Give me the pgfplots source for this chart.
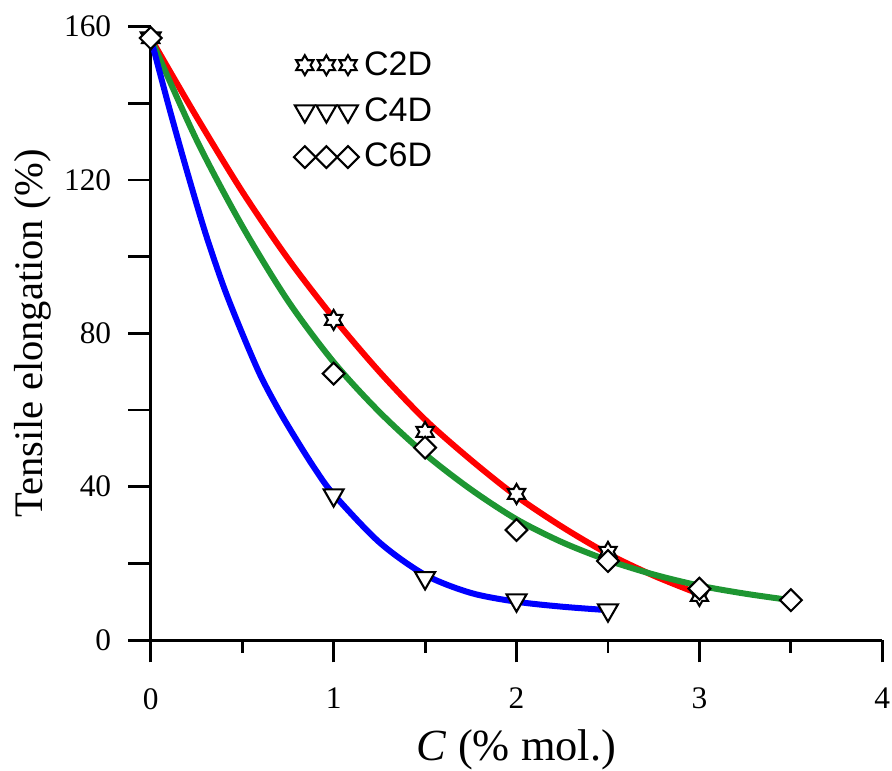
\documentclass[border=0pt]{standalone}
\usepackage{pgfplots}
\pgfplotsset{compat=1.18}
\usepackage{fontspec}
\setmainfont{Liberation Serif}
\newfontfamily\legfont{Liberation Sans}
\definecolor{cgreen}{RGB}{30,150,50}
\definecolor{cred}{RGB}{255,0,0}
\definecolor{cblue}{RGB}{0,0,255}

\pgfdeclareplotmark{hexstar}{%
  \pgfpathmoveto{\pgfpointpolar{90}{\pgfplotmarksize}}%
  \pgfpathlineto{\pgfpointpolar{120}{0.577\pgfplotmarksize}}%
  \pgfpathlineto{\pgfpointpolar{150}{\pgfplotmarksize}}%
  \pgfpathlineto{\pgfpointpolar{180}{0.577\pgfplotmarksize}}%
  \pgfpathlineto{\pgfpointpolar{210}{\pgfplotmarksize}}%
  \pgfpathlineto{\pgfpointpolar{240}{0.577\pgfplotmarksize}}%
  \pgfpathlineto{\pgfpointpolar{270}{\pgfplotmarksize}}%
  \pgfpathlineto{\pgfpointpolar{300}{0.577\pgfplotmarksize}}%
  \pgfpathlineto{\pgfpointpolar{330}{\pgfplotmarksize}}%
  \pgfpathlineto{\pgfpointpolar{0}{0.577\pgfplotmarksize}}%
  \pgfpathlineto{\pgfpointpolar{30}{\pgfplotmarksize}}%
  \pgfpathlineto{\pgfpointpolar{60}{0.577\pgfplotmarksize}}%
  \pgfpathclose
  \pgfusepathqfillstroke
}

\begin{document}
\begin{tikzpicture}
\begin{axis}[
  scale only axis,
  width=9.835cm, height=8.247cm,
  xmin=0, xmax=4, ymin=0, ymax=160,
  axis x line*=bottom, axis y line*=left,
  axis line style={line width=1.1pt, black},
  every tick/.style={black, line width=1.1pt},
  tick align=outside,
  major tick length=0.3cm, minor tick length=0.17cm,
  xtick={0,1,2,3,4}, minor xtick={0.5,1.5,2.5,3.5},
  ytick={0,40,80,120,160},
  extra y ticks={20,60,100,140}, extra y tick labels={,,,},
  /pgf/number format/assume math mode=true,
  ticklabel style={font=\fontsize{12}{14}\selectfont},
  yticklabel style={inner xsep=0pt, inner ysep=0.215cm, xshift=-0.225cm},
  xticklabel style={inner ysep=0pt, inner xsep=0.7pt},
  xticklabel shift=0.34cm,
  xlabel={\textit{C} (\% mol.)},
  ylabel={Tensile elongation (\%)},
  xlabel style={font=\fontsize{17}{20}\selectfont, at={(rel axis cs:0.5,-0.1795)}, anchor=center, inner sep=0pt},
  ylabel style={font=\fontsize{15.5}{18}\selectfont, at={(rel axis cs:-0.1615,0.5)}, anchor=center, inner sep=0pt, inner ysep=0.19cm},
  clip=false,
  legend style={draw=none, fill=none, at={(rel axis cs:0.195,0.969)}, anchor=north west,
    font=\legfont\fontsize{13}{15}\selectfont, row sep=3pt, inner sep=0pt},
  legend cell align=left,
  legend image code/.code={\draw[mark repeat=1] plot coordinates {(0cm,0cm) (0.29cm,0cm) (0.58cm,0cm)};},
]
% fitted curves
\addplot[cred, line width=2.3pt, smooth, no marks, forget plot] coordinates {
 (0,157) (0.25,136.5) (0.5,117) (0.75,99.5) (1.0,84) (1.25,70) (1.5,57.5) (1.75,47)
 (2.0,37.5) (2.25,29.5) (2.5,22.5) (2.75,16.8) (3.0,12)};
\addplot[cgreen, line width=2.3pt, smooth, no marks, forget plot] coordinates {
 (0,157) (0.25,130.5) (0.5,108) (0.75,88.5) (1.0,72.5) (1.25,59.5) (1.5,48.5) (1.75,39.3)
 (2.0,31.5) (2.25,25.5) (2.5,20.8) (2.75,17.1) (3.0,14.2) (3.25,12.1) (3.5,10.4)};
\addplot[cblue, line width=2.3pt, smooth, no marks, forget plot] coordinates {
 (0,157) (0.1,139) (0.2,122) (0.3,106) (0.4,92) (0.5,80) (0.6,69) (0.7,60) (0.8,52)
 (0.9,44.5) (1.0,38) (1.25,25.5) (1.5,17) (1.75,12.3) (2.0,10) (2.25,8.7) (2.5,7.8)};
% data points
\addplot[only marks, mark=hexstar, mark size=3.8pt, mark options={fill=white, draw=black, line width=0.8pt}] coordinates {
 (0,157) (1,83.5) (1.5,54.3) (2,38.1) (2.5,23) (3,11.5)};
\addlegendentry{C2D}
\addplot[only marks, mark=triangle*, mark size=4.4pt, mark options={fill=white, draw=black, line width=0.8pt, rotate=180}] coordinates {
 (0,157) (1,37.8) (1.5,16.2) (2,10.4) (2.5,7.8)};
\addlegendentry{C4D}
\addplot[only marks, mark=square*, mark size=2.95pt, mark options={fill=white, draw=black, line width=0.8pt, rotate=45}] coordinates {
 (0,157) (1,69.5) (1.5,50.2) (2,28.7) (2.5,20.6) (3,13.4) (3.5,10.4)};
\addlegendentry{C6D}
\end{axis}
\end{tikzpicture}
\end{document}
